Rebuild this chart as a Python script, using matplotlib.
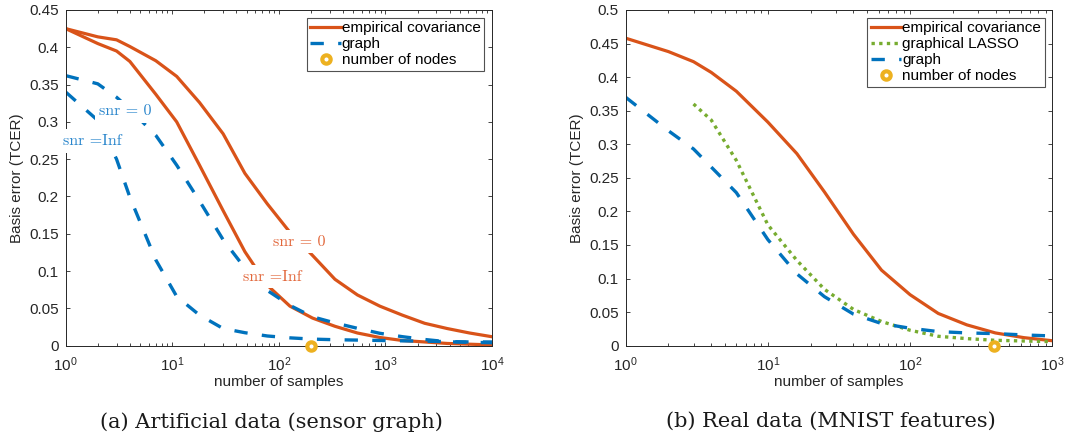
import matplotlib
matplotlib.use('Agg')
import matplotlib.pyplot as plt
from matplotlib.ticker import LogLocator, MultipleLocator, FuncFormatter, NullFormatter

plt.rcParams['font.family'] = ['Liberation Sans', 'DejaVu Sans']
plt.rcParams['mathtext.default'] = 'regular'

# --- (a) artificial data, sensor graph ---
n_sensor = [1, 2, 3, 4, 7, 11, 18, 30, 48, 78, 127, 207, 336, 546, 886, 1438, 2336, 3793, 6158, 10000]
emp_snr0 = [0.425, 0.414, 0.410, 0.401, 0.382, 0.361, 0.326, 0.284, 0.231, 0.190, 0.152, 0.121,
            0.089, 0.068, 0.053, 0.041, 0.030, 0.023, 0.017, 0.012]
emp_inf = [0.425, 0.405, 0.395, 0.381, 0.337, 0.300, 0.242, 0.181, 0.126, 0.081, 0.053, 0.037,
           0.026, 0.017, 0.011, 0.007, 0.005, 0.003, 0.002, 0.001]
graph_snr0 = [0.362, 0.351, 0.333, 0.317, 0.282, 0.242, 0.194, 0.142, 0.104, 0.074, 0.054, 0.0387,
              0.0305, 0.0233, 0.0166, 0.0121, 0.0083, 0.0053, 0.0045, 0.004]
graph_inf = [0.340, 0.302, 0.250, 0.199, 0.115, 0.066, 0.041, 0.023, 0.0174, 0.013, 0.0105, 0.0088,
             0.008, 0.0075, 0.007, 0.0065, 0.006, 0.0055, 0.005, 0.005]
nodes_sensor = 200

# --- (b) real data, MNIST features ---
n_mnist = [1, 2, 3, 4, 6, 10, 16, 25, 40, 63, 100, 158, 251, 398, 631, 1000]
emp_mnist = [0.458, 0.438, 0.423, 0.407, 0.379, 0.333, 0.286, 0.229, 0.166, 0.1125, 0.076, 0.048,
             0.031, 0.019, 0.012, 0.0074]
n_glasso = [3, 4, 6, 10, 16, 25, 40, 63, 100, 158, 251, 398, 631, 1000]
glasso_mnist = [0.360, 0.336, 0.276, 0.180, 0.127, 0.084, 0.054, 0.036, 0.023, 0.014, 0.0105,
                0.008, 0.007, 0.006]
graph_mnist = [0.370, 0.320, 0.293, 0.266, 0.228, 0.158, 0.107, 0.073, 0.047, 0.033, 0.026, 0.021,
               0.019, 0.018, 0.016, 0.0145]
nodes_mnist = 392

RED = '#D95319'
BLUE = '#0072BD'
GREEN = '#77AC30'
YELLOW = '#EDB120'
AXC = '#262626'

LW = 2.3
DASH = (4.0, 4.3)
DOT = (1.0, 1.3)


def style_axes(ax, xmax, ymax):
    ax.set_xscale('log')
    ax.set_xlim(1, xmax)
    ax.set_ylim(0, ymax)
    ax.xaxis.set_major_locator(LogLocator(base=10))
    ax.xaxis.set_minor_locator(LogLocator(base=10, subs=range(2, 10)))
    ax.xaxis.set_minor_formatter(NullFormatter())
    ax.yaxis.set_major_locator(MultipleLocator(0.05))
    ax.yaxis.set_major_formatter(FuncFormatter(lambda v, p: f'{v:g}'))
    ax.tick_params(which='both', direction='in', top=True, right=True,
                   color=AXC, labelcolor=AXC, labelsize=11, width=0.6)
    ax.tick_params(which='major', length=3.2)
    ax.tick_params(which='minor', length=2.4)
    ax.tick_params(axis='y', pad=5)
    ax.tick_params(axis='x', pad=7)
    for s in ax.spines.values():
        s.set_color(AXC)
        s.set_linewidth(0.7)
    ax.set_xlabel('number of samples', fontsize=11, color=AXC, labelpad=1)
    ax.set_ylabel('Basis error (TCER)', fontsize=11, color=AXC, labelpad=4)


def nodes_marker(ax, n):
    ax.plot([n], [0], 'o', ms=6, mew=3, mec=YELLOW, mfc='white', clip_on=False,
            zorder=6, label='number of nodes')


def snr_label(ax, x, y, s, color):
    ax.text(x, y, s, fontfamily='cmr10', fontsize=11.5, color=color, ha='left', va='center',
            zorder=7, clip_on=False,
            bbox=dict(facecolor='white', edgecolor='none', pad=3.5))


fig = plt.figure(figsize=(10.65, 4.42), dpi=100)
ax1 = fig.add_axes([0.0617, 0.2179, 0.4003, 0.7595])
ax2 = fig.add_axes([0.5875, 0.2179, 0.4005, 0.7595])

# (a)
ax1.plot(n_sensor, emp_snr0, color=RED, lw=LW, label='empirical covariance')
ax1.plot(n_sensor, emp_inf, color=RED, lw=LW)
ax1.plot(n_sensor, graph_snr0, color=BLUE, lw=2.4, dashes=DASH, label='graph')
ax1.plot(n_sensor, graph_inf, color=BLUE, lw=2.4, dashes=DASH)
nodes_marker(ax1, nodes_sensor)
style_axes(ax1, 1e4, 0.45)

snr_label(ax1, 2.07, 0.314, 'snr = 0', '#2a86cc')
snr_label(ax1, 0.95, 0.2744, 'snr =Inf', '#2a86cc')
snr_label(ax1, 87.5, 0.1394, 'snr = 0', '#E2683C')
snr_label(ax1, 45.8, 0.0925, 'snr =Inf', '#E2683C')

# (b)
ax2.plot(n_mnist, emp_mnist, color=RED, lw=LW, label='empirical covariance')
ax2.plot(n_glasso, glasso_mnist, color=GREEN, lw=2.4, dashes=DOT, label='graphical LASSO')
ax2.plot(n_mnist, graph_mnist, color=BLUE, lw=2.4, dashes=DASH, label='graph')
nodes_marker(ax2, nodes_mnist)
style_axes(ax2, 1e3, 0.5)

for ax in (ax1, ax2):
    leg = ax.legend(loc='upper right', fontsize=11, frameon=True, fancybox=False,
                    handlelength=2.0, handletextpad=0.05, labelspacing=0.13,
                    borderpad=0.25, borderaxespad=0.5)
    leg.get_frame().set_edgecolor(AXC)
    leg.get_frame().set_linewidth(0.8)
    for t in leg.get_texts():
        t.set_color('black')
    leg.set_zorder(8)

fig.text(271 / 1065, 1 - 421.7 / 442, '(a) Artificial data (sensor graph)',
         fontfamily='DejaVu Serif', fontsize=15, ha='center', va='center', color='#1a1a1a')
fig.text(831 / 1065, 1 - 421.7 / 442, '(b) Real data (MNIST features)',
         fontfamily='DejaVu Serif', fontsize=15, ha='center', va='center', color='#1a1a1a')

fig.savefig('out.png', dpi=100)
